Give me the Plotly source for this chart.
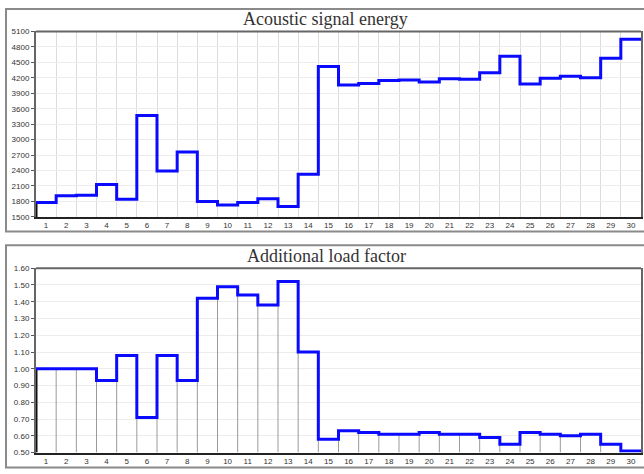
import plotly.graph_objects as go

# Measurement points 1..30
points = list(range(1, 31))

# Acoustic signal energy per interval
energy = [1780, 1910, 1920, 2130, 1840, 3470, 2390, 2760, 1800, 1730,
          1780, 1850, 1700, 2330, 4420, 4060, 4090, 4150, 4160, 4120,
          4180, 4170, 4300, 4620, 4080, 4190, 4230, 4200, 4580, 4950]

# Additional load factor per interval
load = [1.00, 1.00, 1.00, 0.93, 1.08, 0.71, 1.08, 0.93, 1.42, 1.49,
        1.44, 1.38, 1.52, 1.10, 0.58, 0.63, 0.62, 0.61, 0.61, 0.62,
        0.61, 0.61, 0.59, 0.55, 0.62, 0.61, 0.60, 0.61, 0.55, 0.51]

energy_ticks = list(range(1500, 5101, 300))
load_ticks = [round(0.5 + 0.1 * i, 2) for i in range(12)]

W, H = 644, 474
PX_L, PX_R = 36, 641
TOP_Y = (28, 217)
BOT_Y = (269.3, 457.3)


def fy(py):
    return 1 - py / H


edges = [p - 0.5 for p in points] + [points[-1] + 0.5]
inner_edges = edges[1:-1]

fig = go.Figure()

# Bottom chart: gray drop lines at interval boundaries
dx, dy = [], []
for i, e in enumerate(inner_edges):
    dx += [e, e, None]
    dy += [load_ticks[0], max(load[i], load[i + 1]), None]
fig.add_trace(go.Scatter(x=dx, y=dy, mode="lines", xaxis="x2", yaxis="y2",
                         line=dict(color="#9a9a9a", width=1), hoverinfo="skip",
                         showlegend=False))

# Dark left edge below first step
fig.add_trace(go.Scatter(x=[edges[0], edges[0]], y=[energy_ticks[0], energy[0]],
                         mode="lines", xaxis="x", yaxis="y",
                         line=dict(color="#111", width=3), showlegend=False,
                         hoverinfo="skip"))
fig.add_trace(go.Scatter(x=[edges[0], edges[0]], y=[load_ticks[0], load[0]],
                         mode="lines", xaxis="x2", yaxis="y2",
                         line=dict(color="#111", width=3), showlegend=False,
                         hoverinfo="skip"))

# Step lines
fig.add_trace(go.Scatter(x=edges, y=energy + [energy[-1]], mode="lines",
                         line=dict(color="#0a0aff", width=3, shape="hv"),
                         xaxis="x", yaxis="y", showlegend=False))
fig.add_trace(go.Scatter(x=edges, y=load + [load[-1]], mode="lines",
                         line=dict(color="#0a0aff", width=3, shape="hv"),
                         xaxis="x2", yaxis="y2", showlegend=False))

tickfont = dict(family="Liberation Sans, Arial, sans-serif", size=8, color="#333")

xcommon = dict(range=[edges[0], edges[-1]], tickmode="array", tickvals=points,
               ticktext=[str(p) for p in points], showgrid=False, zeroline=False,
               showline=True, linecolor="#222", linewidth=2, ticks="",
               tickfont=tickfont, domain=[PX_L / W, PX_R / W], fixedrange=True)

fig.update_layout(
    width=W, height=H, margin=dict(l=0, r=0, t=0, b=0),
    paper_bgcolor="white", plot_bgcolor="white",
    xaxis=dict(**xcommon, anchor="y",
               minor=dict(tickvals=inner_edges, showgrid=True,
                          gridcolor="#dcdcdc", gridwidth=1, ticks="")),
    yaxis=dict(range=[energy_ticks[0], energy_ticks[-1]], tickmode="array",
               tickvals=energy_ticks, ticktext=[str(t) for t in energy_ticks],
               showgrid=True, gridcolor="#ececec", gridwidth=1, zeroline=False,
               showline=True, linecolor="#666", linewidth=2, mirror=True,
               ticks="outside", ticklen=3, tickcolor="#555",
               tickfont=tickfont, domain=[fy(TOP_Y[1]), fy(TOP_Y[0])],
               anchor="x", fixedrange=True),
    xaxis2=dict(**xcommon, anchor="y2"),
    yaxis2=dict(range=[load_ticks[0], load_ticks[-1]], tickmode="array",
                tickvals=load_ticks, ticktext=[f"{t:.2f}" for t in load_ticks],
                showgrid=True, gridcolor="#ececec", gridwidth=1, zeroline=False,
                showline=True, linecolor="#666", linewidth=2, mirror=True,
                ticks="outside", ticklen=3, tickcolor="#555",
                tickfont=tickfont, domain=[fy(BOT_Y[1]), fy(BOT_Y[0])],
                anchor="x2", fixedrange=True),
)

shapes = []
# Top frame edges of both plots
for (yt, yb) in (TOP_Y, BOT_Y):
    shapes.append(dict(type="line", xref="paper", yref="paper",
                       x0=PX_L / W, x1=PX_R / W, y0=fy(yt), y1=fy(yt),
                       line=dict(color="#666", width=2)))
# Outer panel boxes
for (yt, yb) in ((5, 232), (246, 472.5)):
    shapes.append(dict(type="rect", xref="paper", yref="paper",
                       x0=6 / W, x1=1.02, y0=fy(yb), y1=fy(yt),
                       line=dict(color="#8a8a8a", width=2), layer="below"))
fig.update_layout(shapes=shapes)

titlefont = dict(family="Liberation Serif, Times New Roman, serif", size=18,
                 color="#333")
fig.add_annotation(text="Acoustic signal energy", xref="paper", yref="paper",
                   x=325.5 / W, y=fy(15), xanchor="center", yanchor="middle",
                   showarrow=False, font=titlefont)
fig.add_annotation(text="Additional load factor", xref="paper", yref="paper",
                   x=326.5 / W, y=fy(257.3), xanchor="center", yanchor="middle",
                   showarrow=False, font=titlefont)

fig.write_html("out.html")
